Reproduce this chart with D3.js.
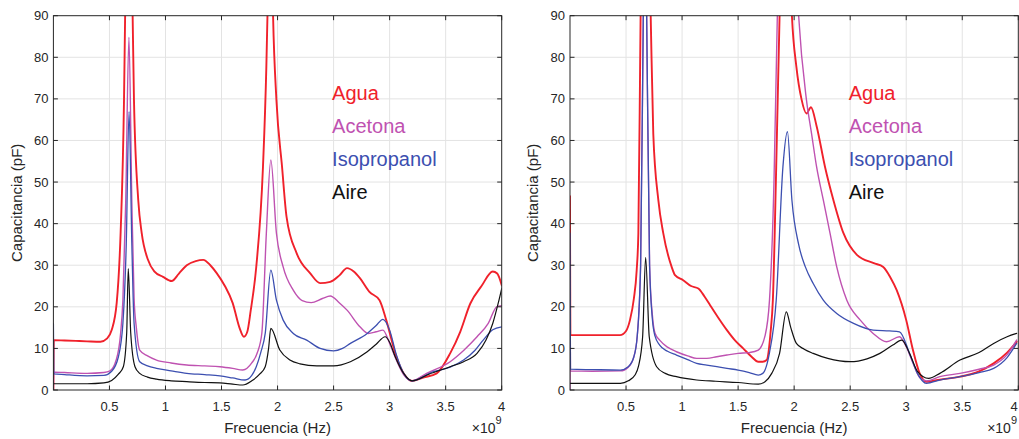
<!DOCTYPE html>
<html>
<head>
<meta charset="utf-8">
<title>Capacitancia vs Frecuencia</title>
<script src="https://cdn.jsdelivr.net/npm/d3@7"></script>
<style>
	body { margin: 0; background: #fff; }
	svg { display: block; font-family: "Liberation Sans", Arial, Helvetica, sans-serif; }
	.grid line { stroke: #e3e3e3; stroke-width: 1; }
	.frame { fill: none; stroke: #262626; stroke-width: 1; }
	.tick-mark { stroke: #262626; stroke-width: 1; }
	.tick-label { fill: #262626; font-size: 13px; }
	.axis-title { fill: #262626; font-size: 15px; }
	.series { fill: none; stroke-linejoin: round; stroke-linecap: round; }
</style>
</head>
<body>
<div id="chart"></div>
<script>
/* DATA: frequency in GHz (axis is x 10^9 Hz), capacitance in pF */

// legend / series names
var seriesNames = [ "Agua", "Acetona", "Isopropanol", "Aire" ];
var seriesColors = [ "#f0212b", "#bf52b1", "#3c4fb0", "#111111" ];

// tick labels
var xTicks = [ 0.5, 1, 1.5, 2, 2.5, 3, 3.5, 4 ];
var yTicks = [ 0, 10, 20, 30, 40, 50, 60, 70, 80, 90 ];

// left plot
var aguaA = [ [ 0, 0 ], [ 0.004, 12 ], [ 0.1, 11.9 ], [ 0.2, 11.8 ], [ 0.3, 11.7 ], [ 0.42, 11.6 ], [ 0.48, 12.4 ], [ 0.52, 14.4 ], [ 0.565, 21 ], [ 0.6, 38 ], [ 0.63, 69.7 ], [ 0.64, 90 ], [ 0.67, 140 ], [ 0.707, 90 ], [ 0.719, 69.7 ], [ 0.757, 45.7 ], [ 0.788, 37.7 ], [ 0.844, 31.3 ], [ 0.9, 28.5 ], [ 0.978, 27.2 ], [ 1.055, 26.2 ], [ 1.12, 28 ], [ 1.19, 30 ], [ 1.27, 31 ], [ 1.337, 31.3 ], [ 1.4, 30 ], [ 1.457, 28.1 ], [ 1.53, 25 ], [ 1.6, 20.9 ], [ 1.66, 15 ], [ 1.7, 12.8 ], [ 1.73, 14 ], [ 1.76, 19 ], [ 1.81, 29.6 ], [ 1.87, 53.7 ], [ 1.9, 77.7 ], [ 1.91, 90 ], [ 1.935, 130 ], [ 1.96, 90 ], [ 1.99, 69.7 ], [ 2.04, 53.7 ], [ 2.08, 41.7 ], [ 2.17, 32.9 ], [ 2.29, 28.1 ], [ 2.38, 25.7 ], [ 2.47, 26 ], [ 2.55, 27.5 ], [ 2.62, 29.3 ], [ 2.68, 28.5 ], [ 2.735, 26.9 ], [ 2.82, 23.6 ], [ 2.91, 21.6 ], [ 2.97, 16.8 ], [ 3.06, 8 ], [ 3.13, 3.8 ], [ 3.2, 2.2 ], [ 3.3, 3 ], [ 3.42, 4 ], [ 3.54, 8.8 ], [ 3.63, 14 ], [ 3.72, 20.8 ], [ 3.82, 25 ], [ 3.92, 28.5 ], [ 3.96, 28 ], [ 4, 25.2 ] ];
var acetonaA = [ [ 0, 0 ], [ 0.004, 4.3 ], [ 0.1, 4.2 ], [ 0.3, 4 ], [ 0.45, 4.2 ], [ 0.505, 4.6 ], [ 0.56, 7.2 ], [ 0.6, 13.7 ], [ 0.62, 21.6 ], [ 0.645, 45 ], [ 0.674, 84.8 ], [ 0.7, 45 ], [ 0.72, 22 ], [ 0.74, 15 ], [ 0.77, 9.6 ], [ 0.84, 8.2 ], [ 0.92, 7.2 ], [ 1.05, 6.5 ], [ 1.19, 6 ], [ 1.35, 5.8 ], [ 1.486, 5.6 ], [ 1.6, 5.2 ], [ 1.69, 4.8 ], [ 1.77, 6.5 ], [ 1.82, 9 ], [ 1.86, 13.7 ], [ 1.9, 37.7 ], [ 1.94, 55.3 ], [ 1.99, 37.7 ], [ 2.05, 29.6 ], [ 2.14, 24 ], [ 2.22, 21.5 ], [ 2.3, 21 ], [ 2.4, 22 ], [ 2.47, 22.6 ], [ 2.55, 21 ], [ 2.62, 19.2 ], [ 2.735, 15.2 ], [ 2.81, 13.6 ], [ 2.88, 14 ], [ 2.94, 14.4 ], [ 3, 11.2 ], [ 3.06, 7.2 ], [ 3.13, 3.5 ], [ 3.2, 2.2 ], [ 3.33, 4 ], [ 3.54, 6.8 ], [ 3.66, 9.5 ], [ 3.78, 12.8 ], [ 3.88, 16 ], [ 3.955, 20 ], [ 4, 20.3 ] ];
var isoA = [ [ 0, 16 ], [ 0.004, 3.9 ], [ 0.1, 3.7 ], [ 0.3, 3.4 ], [ 0.45, 3.5 ], [ 0.52, 4.5 ], [ 0.58, 8 ], [ 0.62, 16 ], [ 0.65, 35 ], [ 0.675, 66.9 ], [ 0.7, 35 ], [ 0.72, 16 ], [ 0.77, 6.8 ], [ 0.84, 5.8 ], [ 0.92, 5.2 ], [ 1.05, 4.6 ], [ 1.19, 4 ], [ 1.35, 3.7 ], [ 1.486, 3.4 ], [ 1.6, 2.9 ], [ 1.71, 2.4 ], [ 1.77, 3.5 ], [ 1.81, 5.6 ], [ 1.85, 9 ], [ 1.89, 13.6 ], [ 1.94, 28.8 ], [ 1.99, 21.6 ], [ 2.05, 16.8 ], [ 2.14, 13.6 ], [ 2.26, 12 ], [ 2.38, 10 ], [ 2.5, 9.4 ], [ 2.58, 10 ], [ 2.65, 11.2 ], [ 2.8, 13.6 ], [ 2.88, 15.5 ], [ 2.94, 17 ], [ 3, 14.4 ], [ 3.06, 8.5 ], [ 3.13, 3.8 ], [ 3.2, 2.2 ], [ 3.39, 4.4 ], [ 3.54, 5.5 ], [ 3.66, 7.2 ], [ 3.76, 9.5 ], [ 3.835, 12 ], [ 3.92, 14.5 ], [ 4, 15.2 ] ];
var aireA = [ [ 0, 1.5 ], [ 0.1, 1.5 ], [ 0.3, 1.5 ], [ 0.45, 1.7 ], [ 0.52, 2.3 ], [ 0.58, 3.8 ], [ 0.624, 5.6 ], [ 0.654, 13.7 ], [ 0.668, 29.2 ], [ 0.69, 13.7 ], [ 0.728, 5.6 ], [ 0.77, 4 ], [ 0.84, 3.1 ], [ 0.92, 2.6 ], [ 1.05, 2.2 ], [ 1.19, 2 ], [ 1.35, 1.8 ], [ 1.486, 1.7 ], [ 1.6, 1.4 ], [ 1.69, 1.2 ], [ 1.77, 2.2 ], [ 1.84, 3.8 ], [ 1.89, 5.6 ], [ 1.92, 10 ], [ 1.94, 14.8 ], [ 2.02, 9.6 ], [ 2.11, 7.2 ], [ 2.2, 6.3 ], [ 2.35, 5.8 ], [ 2.5, 5.8 ], [ 2.65, 6.8 ], [ 2.8, 9.2 ], [ 2.88, 11 ], [ 2.96, 12.8 ], [ 3, 11.5 ], [ 3.05, 8 ], [ 3.13, 3.8 ], [ 3.2, 2.2 ], [ 3.35, 3.8 ], [ 3.54, 5.6 ], [ 3.66, 6.8 ], [ 3.78, 8.8 ], [ 3.86, 12 ], [ 3.92, 16 ], [ 3.97, 21 ], [ 4, 24.4 ] ];

// right plot
var aguaB = [ [ 0, 46.6 ], [ 0.004, 13.2 ], [ 0.2, 13.2 ], [ 0.446, 13.2 ], [ 0.5, 14.2 ], [ 0.535, 16.8 ], [ 0.57, 22 ], [ 0.595, 28.8 ], [ 0.61, 37.7 ], [ 0.63, 90 ], [ 0.675, 150 ], [ 0.72, 90 ], [ 0.743, 61.7 ], [ 0.788, 45.7 ], [ 0.832, 37.7 ], [ 0.907, 29.6 ], [ 0.937, 27.6 ], [ 1.01, 26.4 ], [ 1.08, 25 ], [ 1.145, 24.4 ], [ 1.2, 22.5 ], [ 1.25, 20.4 ], [ 1.32, 17.5 ], [ 1.4, 14.4 ], [ 1.47, 12 ], [ 1.545, 10 ], [ 1.62, 8 ], [ 1.68, 6.8 ], [ 1.72, 6.8 ], [ 1.755, 7.2 ], [ 1.79, 14 ], [ 1.81, 21.6 ], [ 1.84, 53.7 ], [ 1.87, 90 ], [ 1.925, 140 ], [ 1.98, 90 ], [ 2.02, 77.7 ], [ 2.065, 70 ], [ 2.11, 66.5 ], [ 2.15, 68 ], [ 2.2, 63.5 ], [ 2.275, 53.7 ], [ 2.35, 45.7 ], [ 2.44, 37.7 ], [ 2.56, 32.5 ], [ 2.71, 30.5 ], [ 2.795, 29.6 ], [ 2.86, 27 ], [ 2.915, 24 ], [ 3, 16.8 ], [ 3.06, 9.6 ], [ 3.12, 4 ], [ 3.18, 2 ], [ 3.3, 2.5 ], [ 3.48, 3.2 ], [ 3.65, 4.5 ], [ 3.78, 6.4 ], [ 3.9, 9 ], [ 3.985, 11.6 ] ];
var acetonaB = [ [ 0, 0 ], [ 0.002, 18.5 ], [ 0.004, 4.6 ], [ 0.2, 4.5 ], [ 0.45, 4.6 ], [ 0.52, 5.5 ], [ 0.57, 8 ], [ 0.6, 13 ], [ 0.63, 30 ], [ 0.654, 90 ], [ 0.67, 130 ], [ 0.684, 90 ], [ 0.71, 30 ], [ 0.735, 18 ], [ 0.758, 13.7 ], [ 0.8, 12 ], [ 0.87, 10.3 ], [ 0.95, 9.2 ], [ 1.05, 8.2 ], [ 1.13, 7.6 ], [ 1.22, 7.6 ], [ 1.31, 8 ], [ 1.4, 8.4 ], [ 1.5, 8.8 ], [ 1.6, 9 ], [ 1.68, 9.6 ], [ 1.74, 13 ], [ 1.78, 21.6 ], [ 1.82, 50 ], [ 1.85, 90 ], [ 1.95, 150 ], [ 2.04, 90 ], [ 2.11, 69.7 ], [ 2.155, 61.7 ], [ 2.2, 53.7 ], [ 2.26, 45.7 ], [ 2.32, 37.7 ], [ 2.38, 29.6 ], [ 2.47, 21.6 ], [ 2.59, 16.8 ], [ 2.705, 13.6 ], [ 2.825, 11.6 ], [ 2.94, 12.8 ], [ 3, 10.4 ], [ 3.06, 6.5 ], [ 3.12, 3 ], [ 3.18, 2.2 ], [ 3.3, 3.2 ], [ 3.48, 4 ], [ 3.65, 5 ], [ 3.78, 6 ], [ 3.9, 8.5 ], [ 3.985, 12 ] ];
var isoB = [ [ 0, 37.7 ], [ 0.004, 5 ], [ 0.2, 4.9 ], [ 0.45, 4.8 ], [ 0.52, 5.6 ], [ 0.57, 8 ], [ 0.6, 13 ], [ 0.63, 30 ], [ 0.654, 90 ], [ 0.67, 120 ], [ 0.684, 90 ], [ 0.71, 30 ], [ 0.735, 17 ], [ 0.758, 13 ], [ 0.8, 10.8 ], [ 0.87, 9.3 ], [ 0.95, 8.4 ], [ 1.05, 7.3 ], [ 1.13, 6.4 ], [ 1.22, 6 ], [ 1.31, 5.6 ], [ 1.4, 5.2 ], [ 1.5, 4.8 ], [ 1.6, 4.2 ], [ 1.68, 3.6 ], [ 1.72, 4 ], [ 1.78, 9 ], [ 1.84, 21.6 ], [ 1.9, 53.7 ], [ 1.94, 62.1 ], [ 1.98, 45.7 ], [ 2.04, 35 ], [ 2.1, 29.6 ], [ 2.17, 25.6 ], [ 2.26, 21.6 ], [ 2.38, 18.4 ], [ 2.53, 16 ], [ 2.705, 14.4 ], [ 2.85, 14.2 ], [ 2.94, 14 ], [ 3.03, 8.8 ], [ 3.1, 4 ], [ 3.18, 1.6 ], [ 3.3, 2.4 ], [ 3.48, 3.2 ], [ 3.65, 4.2 ], [ 3.78, 5.2 ], [ 3.9, 7.8 ], [ 3.985, 11.2 ] ];
var aireB = [ [ 0, 1.6 ], [ 0.2, 1.6 ], [ 0.45, 1.6 ], [ 0.52, 2.2 ], [ 0.58, 3.6 ], [ 0.61, 5.6 ], [ 0.648, 12.8 ], [ 0.675, 31.9 ], [ 0.707, 12.8 ], [ 0.773, 5.6 ], [ 0.85, 4 ], [ 0.95, 3.2 ], [ 1.13, 2.4 ], [ 1.3, 2.1 ], [ 1.5, 1.8 ], [ 1.68, 1.4 ], [ 1.74, 2 ], [ 1.8, 4 ], [ 1.87, 8.8 ], [ 1.93, 18.8 ], [ 1.97, 15 ], [ 2.02, 11.2 ], [ 2.09, 9.8 ], [ 2.17, 8.8 ], [ 2.3, 7.6 ], [ 2.5, 6.8 ], [ 2.65, 7.5 ], [ 2.765, 8.8 ], [ 2.88, 10.8 ], [ 2.96, 12 ], [ 3.03, 8.8 ], [ 3.1, 4.5 ], [ 3.2, 2.8 ], [ 3.3, 4 ], [ 3.48, 7.2 ], [ 3.65, 9 ], [ 3.78, 11.2 ], [ 3.9, 12.8 ], [ 3.985, 13.6 ] ];

// svg setup
var width = 1019,
	height = 439;

var svg = d3.select( "#chart" ).append( "svg" )
	.attr( "width", width )
	.attr( "height", height );

// one entry per subplot: its pixel box + the series in draw order
var panels = [
	{ left: 53.4, right: 501.7, top: 15.7, bottom: 390, yTitleX: 22, series: [ aguaA, acetonaA, isoA, aireA ] },
	{ left: 570, right: 1018.3, top: 15.7, bottom: 390, yTitleX: 538, series: [ aguaB, acetonaB, isoB, aireB ] }
];

var strokeWidths = [ 1.9, 1.4, 1.3, 1.2 ];

panels.forEach( function ( p, pi ) {
	var x = d3.scaleLinear().domain( [ 0, 4 ] ).range( [ p.left, p.right ] ),
		y = d3.scaleLinear().domain( [ 0, 90 ] ).range( [ p.bottom, p.top ] );

	var g = svg.append( "g" );

	// grid
	var grid = g.append( "g" ).attr( "class", "grid" );
	grid.selectAll( ".gx" )
		.data( xTicks.filter( function ( t ) { return t < 4; } ) )
		.enter().append( "line" )
		.attr( "x1", function ( d ) { return x( d ); } )
		.attr( "x2", function ( d ) { return x( d ); } )
		.attr( "y1", p.top )
		.attr( "y2", p.bottom );
	grid.selectAll( ".gy" )
		.data( yTicks.filter( function ( t ) { return t > 0 && t < 90; } ) )
		.enter().append( "line" )
		.attr( "x1", p.left )
		.attr( "x2", p.right )
		.attr( "y1", function ( d ) { return y( d ); } )
		.attr( "y2", function ( d ) { return y( d ); } );

	// clip lines to the plot box
	var clipId = "clip" + pi;
	svg.append( "clipPath" ).attr( "id", clipId )
		.append( "rect" )
		.attr( "x", p.left )
		.attr( "y", p.top )
		.attr( "width", p.right - p.left )
		.attr( "height", p.bottom - p.top );

	var line = d3.line()
		.x( function ( d ) { return x( d[ 0 ] ); } )
		.y( function ( d ) { return y( d[ 1 ] ); } )
		.curve( d3.curveMonotoneX );

	var lines = g.append( "g" ).attr( "clip-path", "url(#" + clipId + ")" );
	p.series.forEach( function ( s, si ) {
		lines.append( "path" )
			.datum( s )
			.attr( "class", "series" )
			.attr( "stroke", seriesColors[ si ] )
			.attr( "stroke-width", strokeWidths[ si ] )
			.attr( "d", line );
	} );

	// box
	g.append( "rect" )
		.attr( "class", "frame" )
		.attr( "x", p.left )
		.attr( "y", p.top )
		.attr( "width", p.right - p.left )
		.attr( "height", p.bottom - p.top );

	// tick marks, inward on all four sides
	var tl = 4.5;
	xTicks.forEach( function ( t ) {
		g.append( "line" ).attr( "class", "tick-mark" )
			.attr( "x1", x( t ) ).attr( "x2", x( t ) )
			.attr( "y1", p.bottom ).attr( "y2", p.bottom - tl );
		g.append( "line" ).attr( "class", "tick-mark" )
			.attr( "x1", x( t ) ).attr( "x2", x( t ) )
			.attr( "y1", p.top ).attr( "y2", p.top + tl );
	} );
	yTicks.forEach( function ( t ) {
		g.append( "line" ).attr( "class", "tick-mark" )
			.attr( "x1", p.left ).attr( "x2", p.left + tl )
			.attr( "y1", y( t ) ).attr( "y2", y( t ) );
		g.append( "line" ).attr( "class", "tick-mark" )
			.attr( "x1", p.right ).attr( "x2", p.right - tl )
			.attr( "y1", y( t ) ).attr( "y2", y( t ) );
	} );

	// tick labels (keep the last one inside the page)
	g.selectAll( ".xl" )
		.data( xTicks )
		.enter().append( "text" )
		.attr( "class", "tick-label" )
		.attr( "x", function ( d ) { return Math.min( x( d ), width - 5 ); } )
		.attr( "y", p.bottom + 21 )
		.attr( "text-anchor", "middle" )
		.text( function ( d ) { return d; } );
	g.selectAll( ".yl" )
		.data( yTicks )
		.enter().append( "text" )
		.attr( "class", "tick-label" )
		.attr( "x", p.left - 5 )
		.attr( "y", function ( d ) { return y( d ) + 4.6; } )
		.attr( "text-anchor", "end" )
		.text( function ( d ) { return d; } );

	// exponent note
	var exp = g.append( "text" )
		.attr( "class", "tick-label" )
		.attr( "x", Math.min( p.right, width - 2 ) )
		.attr( "y", 433 )
		.attr( "text-anchor", "end" )
		.style( "font-size", "14px" );
	exp.append( "tspan" ).text( "\u00d710" );
	exp.append( "tspan" ).attr( "dy", -9 ).style( "font-size", "11px" ).text( "9" );

	// axis titles
	g.append( "text" )
		.attr( "class", "axis-title" )
		.attr( "x", ( p.left + p.right ) / 2 )
		.attr( "y", 433 )
		.attr( "text-anchor", "middle" )
		.text( "Frecuencia (Hz)" );
	g.append( "text" )
		.attr( "class", "axis-title" )
		.attr( "transform", "translate(" + p.yTitleX + "," + ( ( p.top + p.bottom ) / 2 ) + ") rotate(-90)" )
		.attr( "text-anchor", "middle" )
		.text( "Capacitancia (pF)" );

	// legend as plain coloured text
	seriesNames.forEach( function ( name, si ) {
		g.append( "text" )
			.attr( "x", x( 2.5 ) - 1.5 )
			.attr( "y", 99.5 + si * 33.3 )
			.attr( "fill", seriesColors[ si ] )
			.style( "font-size", "20px" )
			.text( name );
	} );
} );
</script>
</body>
</html>
